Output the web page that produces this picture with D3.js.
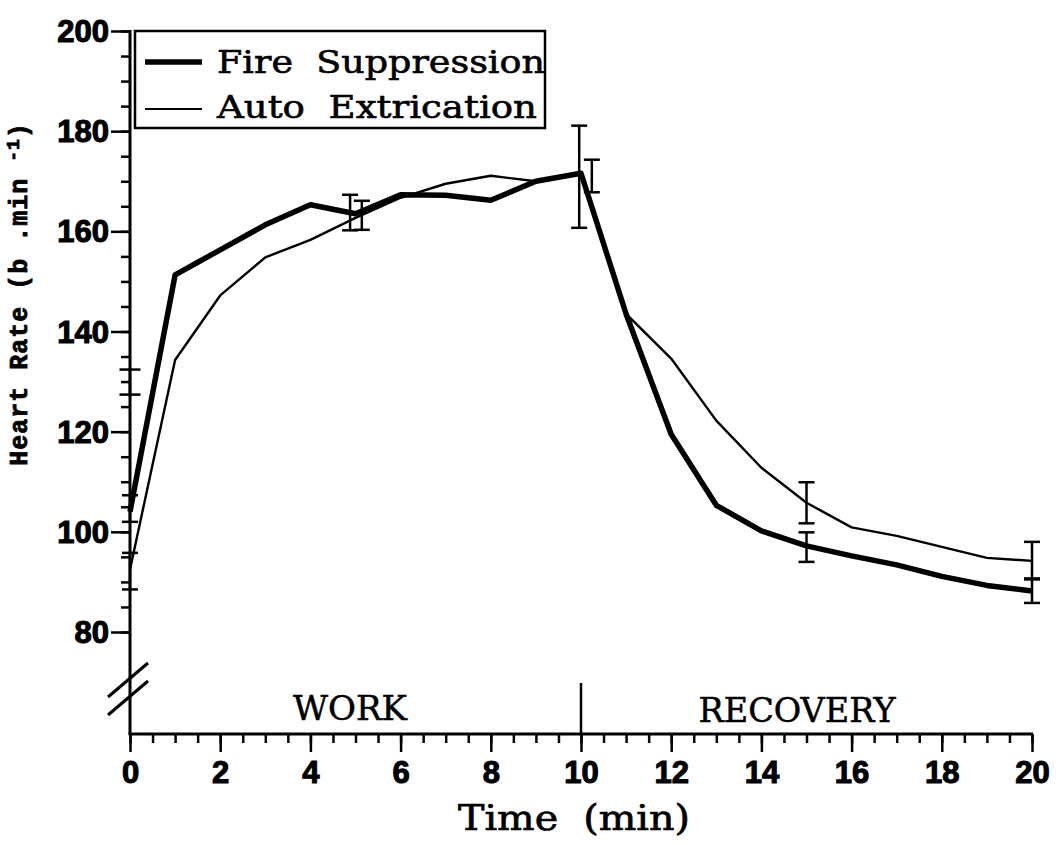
<!DOCTYPE html>
<html><head><meta charset="utf-8">
<script src="https://cdn.jsdelivr.net/npm/d3@7"></script>
<style>body{margin:0;background:#fff}svg{display:block}</style>
</head><body>
<svg id="chart" width="1056" height="845"></svg>
<script>
// ---- data ----
const times = [0,1,2,3,4,5,6,7,8,9,10,11,12,13,14,15,16,17,18,19,20];
const fireSuppression = [104,151.3,156.3,161.3,165.3,163.5,167.3,167.2,166.2,170.0,171.6,143.5,119.5,105.3,100.2,97.2,95.2,93.4,91.1,89.3,88.2];
const autoExtrication = [92.5,134.3,147.2,154.8,158.3,162.7,166.7,169.5,171.1,170.0,171.8,143.5,134.6,122.2,112.8,105.8,100.9,99.2,97.0,94.8,94.2];

const fireErrTime = [0,4.88,10.24,15,20];
const fireErrLo   = [102.0,160.2,167.8,94.0,85.8];
const fireErrHi   = [107.3,167.3,174.3,99.9,90.7];
const autoErrTime = [0,5.14,9.96,15,20];
const autoErrLo   = [88.5,160.3,160.7,101.7,90.5];
const autoErrHi   = [95.8,166.1,181.1,109.9,98.0];
const otherErrTime = [0];
const otherErrLo   = [127.4];
const otherErrHi   = [132.4];

const yMajorTicks = [80,100,120,140,160,180,200];
const yMinorTicks = [80,85,90,95,100,105,110,115,120,125,130,135,140,145,150,155,160,165,170,175,180,185,190,195,200];
const xMajorTicks = [0,2,4,6,8,10,12,14,16,18,20];
const xMinorTicks = [0,0.5,1,1.5,2,2.5,3,3.5,4,4.5,5,5.5,6,6.5,7,7.5,8,8.5,9,9.5,10,10.5,11,11.5,12,12.5,13,13.5,14,14.5,15,15.5,16,16.5,17,17.5,18,18.5,19,19.5,20];
const phaseLabels = ["WORK","RECOVERY"];
const legendLabels = ["Fire  Suppression","Auto  Extrication"];

// ---- layout ----
const svg = d3.select("#chart");
const x = d3.scaleLinear().domain([0,20]).range([130,1032]);
const y = d3.scaleLinear().domain([80,200]).range([632,31]);
const baseY = 734;
const ink = "#000";
const serif = "'DejaVu Serif',serif";

// y axis
const gy = svg.append("g").attr("transform",`translate(${x(0)},0)`);
gy.call(d3.axisLeft(y).tickValues(yMinorTicks).tickSize(9).tickFormat(""));
gy.call(g=>g.select(".domain").remove());
const gy2 = svg.append("g").attr("transform",`translate(${x(0)},0)`);
gy2.call(d3.axisLeft(y).tickValues(yMajorTicks).tickSize(19).tickPadding(2).tickFormat(d3.format("d")));
gy2.select(".domain").remove();
svg.selectAll("g .tick line").attr("stroke",ink).attr("stroke-width",2.5);
gy2.selectAll("text").attr("font-family","'Liberation Sans',Arial,sans-serif")
  .attr("font-weight","bold").attr("font-size",31).attr("fill",ink).attr("dy","0.34em")
  .attr("stroke",ink).attr("stroke-width",1.1);
svg.append("line").attr("x1",x(0)).attr("x2",x(0)).attr("y1",y(200)-1).attr("y2",baseY)
  .attr("stroke",ink).attr("stroke-width",3);

// x axis
const gx = svg.append("g").attr("transform",`translate(0,${baseY})`);
gx.call(d3.axisBottom(x).tickValues(xMinorTicks).tickSize(9).tickFormat(""));
gx.select(".domain").remove();
const gx2 = svg.append("g").attr("transform",`translate(0,${baseY})`);
gx2.call(d3.axisBottom(x).tickValues(xMajorTicks).tickSize(18).tickPadding(9).tickFormat(d3.format("d")));
gx2.select(".domain").remove();
[gx,gx2].forEach(g=>g.selectAll(".tick line").attr("stroke",ink).attr("stroke-width",2.5));
gx2.selectAll("text").attr("font-family","'Liberation Sans',Arial,sans-serif")
  .attr("font-weight","bold").attr("font-size",31).attr("fill",ink)
  .attr("stroke",ink).attr("stroke-width",1.1);
svg.append("line").attr("x1",x(0)-1.5).attr("x2",x(20)+1).attr("y1",baseY).attr("y2",baseY)
  .attr("stroke",ink).attr("stroke-width",3);

// axis break marks
[697,715].forEach(yy=>{
  svg.append("line").attr("x1",x(0)-22).attr("y1",yy).attr("x2",x(0)+18).attr("y2",yy-34)
    .attr("stroke",ink).attr("stroke-width",3);
});

// phase divider & labels
svg.append("line").attr("x1",x(10)).attr("x2",x(10)).attr("y1",683).attr("y2",baseY)
  .attr("stroke",ink).attr("stroke-width",2.5);
svg.append("text").attr("x",350).attr("y",720).attr("text-anchor","middle")
  .attr("font-family",serif).attr("font-size",33).attr("fill",ink)
  .attr("stroke",ink).attr("stroke-width",0.5)
  .attr("textLength",114).attr("lengthAdjust","spacingAndGlyphs").text(phaseLabels[0]);
svg.append("text").attr("x",797).attr("y",722).attr("text-anchor","middle")
  .attr("font-family",serif).attr("font-size",33).attr("fill",ink)
  .attr("stroke",ink).attr("stroke-width",0.5)
  .attr("textLength",197).attr("lengthAdjust","spacingAndGlyphs").text(phaseLabels[1]);

// axis titles
svg.append("text").attr("x",574).attr("y",830).attr("text-anchor","middle")
  .attr("font-family",serif).attr("font-size",36).attr("fill",ink)
  .attr("stroke",ink).attr("stroke-width",0.7)
  .attr("textLength",232).attr("lengthAdjust","spacingAndGlyphs")
  .attr("xml:space","preserve").text("Time  (min)");
const yl = svg.append("text").attr("transform","translate(27,294) rotate(-90)")
  .attr("text-anchor","middle").attr("font-family","'Liberation Mono','DejaVu Sans Mono',monospace")
  .attr("font-weight","bold").attr("font-size",25).attr("fill",ink).attr("letter-spacing",1)
  .attr("stroke",ink).attr("stroke-width",0.8);
yl.append("tspan").text("Heart Rate (b .min ");
yl.append("tspan").attr("font-size",18).attr("dy",-8).text("-1");
yl.append("tspan").attr("dy",8).text(")");

// lines
const line = d3.line().x((d,i)=>x(times[i])).y(d=>y(d));
svg.append("path").datum(autoExtrication).attr("d",line).attr("fill","none")
  .attr("stroke",ink).attr("stroke-width",2.4).attr("stroke-linejoin","round");
svg.append("path").datum(fireSuppression).attr("d",line).attr("fill","none")
  .attr("stroke",ink).attr("stroke-width",5.5).attr("stroke-linejoin","round");

// error bars
function errBars(ts, lo, hi, capW){
  ts.forEach((t,i)=>{
    const g = svg.append("g").attr("stroke",ink).attr("stroke-width",2.5);
    g.append("line").attr("x1",x(t)).attr("x2",x(t)).attr("y1",y(lo[i])).attr("y2",y(hi[i]));
    [lo[i],hi[i]].forEach(v=>g.append("line").attr("x1",x(t)-capW/2).attr("x2",x(t)+capW/2)
      .attr("y1",y(v)).attr("y2",y(v)));
  });
}
errBars(fireErrTime, fireErrLo, fireErrHi, 16);
errBars(autoErrTime, autoErrLo, autoErrHi, 16);
errBars(otherErrTime, otherErrLo, otherErrHi, 21);

// legend
svg.append("rect").attr("x",135).attr("y",31).attr("width",410).attr("height",97)
  .attr("fill","#fff").attr("stroke",ink).attr("stroke-width",2.5);
[[62,5.5],[109,2.2]].forEach(([yy,w],i)=>{
  svg.append("line").attr("x1",145).attr("x2",202).attr("y1",yy).attr("y2",yy)
    .attr("stroke",ink).attr("stroke-width",w);
  svg.append("text").attr("x",217).attr("y",yy+11+(i?-2:0))
    .attr("font-family",serif).attr("font-size",32).attr("fill",ink)
    .attr("stroke",ink).attr("stroke-width",0.6)
    .attr("xml:space","preserve")
    .attr("textLength",i?320:328).attr("lengthAdjust","spacingAndGlyphs").text(legendLabels[i]);
});
</script>
</body></html>
